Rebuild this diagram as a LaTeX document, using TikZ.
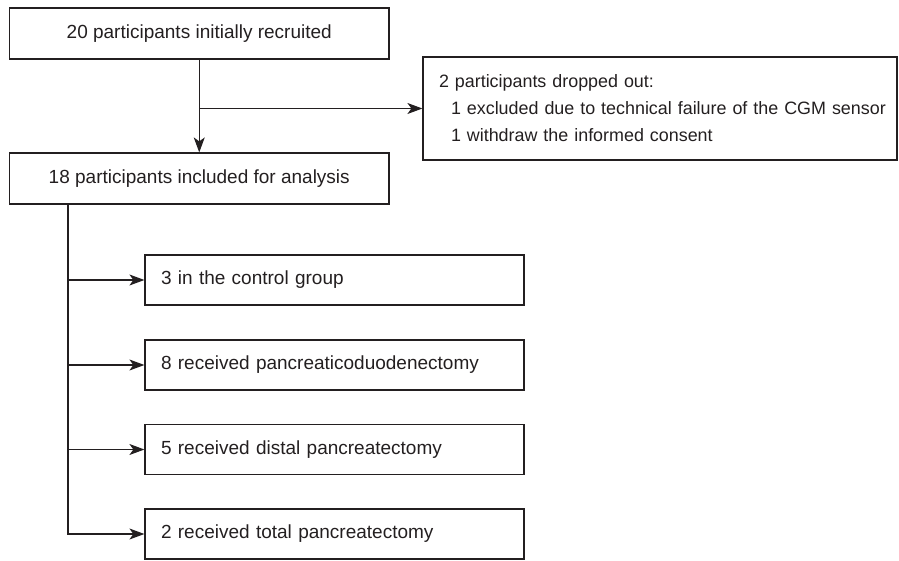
\documentclass[tikz,border=0pt]{standalone}
\usepackage{fontspec}
\setmainfont{Liberation Sans}
\usetikzlibrary{arrows.meta}
\definecolor{inkgray}{RGB}{35,31,32}
\begin{document}
\begin{tikzpicture}[x=1pt,y=-1pt,
  box/.style={draw=inkgray,text=inkgray,line width=1.2pt,inner sep=0pt,
    minimum height=51pt,font=\fontsize{19}{27}\selectfont},
  groupbox/.style={box,minimum width=379pt,minimum height=50pt,text width=347pt,align=left},
  arr/.style={draw=inkgray,line width=1.2pt,-{Stealth[length=15pt,width=11pt,inset=4pt]}}]

\useasboundingbox (0,0) rectangle (899,561);

\node[box,minimum width=379.5pt] (recruited) at (199.25,33.5) {20 participants initially recruited};
\node[box,minimum width=379.5pt] (included) at (199.25,178.5) {18 participants included for analysis};
\node[box,minimum width=474pt,minimum height=103pt,text width=442pt,align=left,
  font=\fontsize{17.9}{27}\selectfont] (dropped) at (660,108.5)
  {\mbox{2 participants dropped out:}\\
   \mbox{\hspace*{12pt}1 excluded due to technical failure of the CGM sensor}\\
   \mbox{\hspace*{12pt}1 withdraw the informed consent}};

\node[groupbox] (control) at (334.5,280) {3 in the control group};
\node[groupbox] (pd) at (334.5,365) {8 received pancreaticoduodenectomy};
\node[groupbox] (dp) at (334.5,449.5) {5 received distal pancreatectomy};
\node[groupbox] (tp) at (334.5,534) {2 received total pancreatectomy};

\draw[arr] (recruited.south) -- (included.north);
\coordinate (split) at (recruited.south |- dropped.west);
\draw[arr] (split) -- (dropped.west);

\coordinate (trunk) at (68,204);
\draw[arr] (trunk) |- (tp.west);
\foreach \g in {control,pd,dp}{
\draw[arr] (trunk |- \g.west) -- (\g.west);
}

\end{tikzpicture}
\end{document}
